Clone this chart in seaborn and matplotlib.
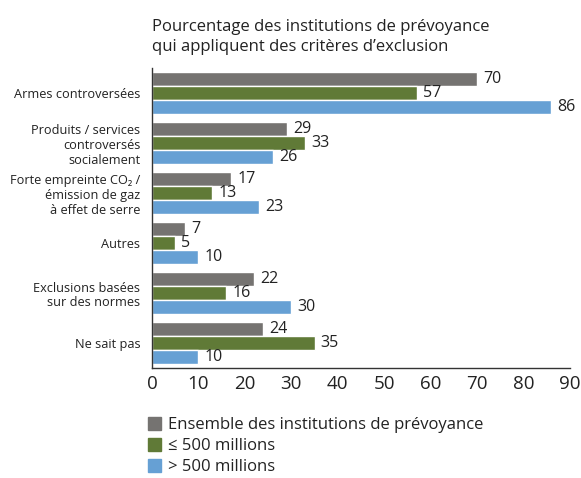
import pandas as pd
import matplotlib.pyplot as plt
import seaborn as sns

# Chart data
categories = [
    "Armes controversées",
    "Produits / services\ncontroversés\nsocialement",
    "Forte empreinte CO₂ /\némission de gaz\nà effet de serre",
    "Autres",
    "Exclusions basées\nsur des normes",
    "Ne sait pas",
]
series = ["Ensemble des institutions de prévoyance", "≤ 500 millions", "> 500 millions"]
ensemble = [70, 29, 17, 7, 22, 24]
small = [57, 33, 13, 5, 16, 35]
large = [86, 26, 23, 10, 30, 10]
x_ticks = [0, 10, 20, 30, 40, 50, 60, 70, 80, 90]

colors = ["#757371", "#607a37", "#66a0d4"]
text_color = "#222222"

sns.set_theme(style="white")
plt.rcParams["font.family"] = ["Open Sans", "DejaVu Sans"]
plt.rcParams["text.color"] = text_color

rows = []
for name, values in zip(series, [ensemble, small, large]):
    for cat, v in zip(categories, values):
        rows.append({"category": cat, "series": name, "value": v})
df = pd.DataFrame(rows)

fig = plt.figure(figsize=(5.81, 4.78), dpi=100)
ax = fig.add_axes([152 / 581, 1 - 368 / 478, (570 - 152) / 581, 300 / 478])

sns.barplot(
    data=df, x="value", y="category", hue="series", orient="h",
    palette=colors, width=0.84, gap=0.07, ax=ax, legend=False,
    order=categories, hue_order=series, saturation=1,
)

# value labels at the end of each bar
for container in ax.containers:
    ax.bar_label(container, padding=4.5, fontsize=11.5, color=text_color)

ax.set_xlim(0, 90)
ax.set_ylim(5.5, -0.5)
ax.set_xticks(x_ticks)
ax.set_xlabel("")
ax.set_ylabel("")
ax.tick_params(axis="x", direction="in", length=7, width=1, colors="#333333",
               labelsize=13.5, labelcolor=text_color, pad=5)
ax.tick_params(axis="y", length=0, labelsize=9.2, labelcolor=text_color, pad=8.5)
for lbl in ax.get_yticklabels():
    lbl.set_horizontalalignment("right")
    lbl.set_multialignment("right")
    lbl.set_linespacing(1.2)

sns.despine(ax=ax, top=True, right=True)
for side in ["left", "bottom"]:
    ax.spines[side].set_color("#333333")
    ax.spines[side].set_linewidth(1)

fig.text(152 / 581, 1 - 19 / 478,
         "Pourcentage des institutions de prévoyance\nqui appliquent des critères d’exclusion",
         ha="left", va="top", fontsize=12, linespacing=1.35)

handles = [plt.Rectangle((0, 0), 1, 1, color=c) for c in colors]
fig.legend(handles, series, loc="upper left",
           bbox_to_anchor=(148 / 581, 1 - 417 / 478),
           frameon=False, fontsize=12, handlelength=0.78, handleheight=0.78,
           handletextpad=0.4, labelspacing=0.3, borderaxespad=0, borderpad=0)

fig.savefig("out.png", dpi=100)
